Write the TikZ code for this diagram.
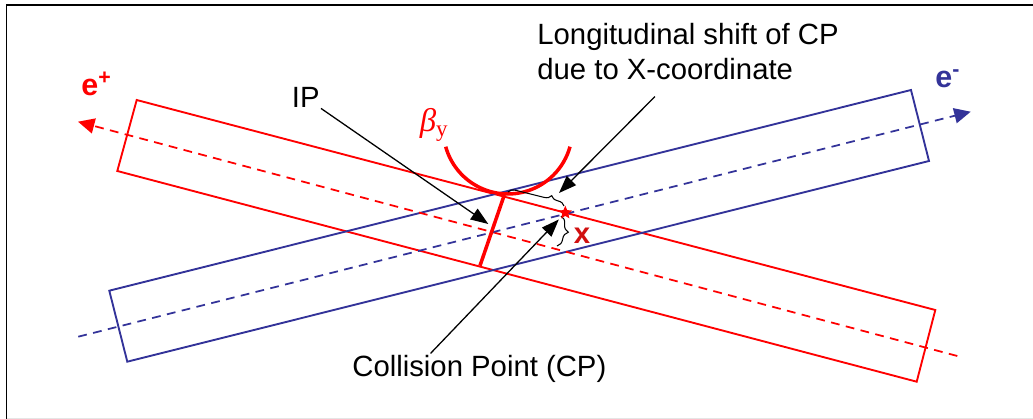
\documentclass[tikz,border=0pt]{standalone}
\usepackage{fontspec}
\setmainfont{Liberation Sans}
\newfontfamily\greekserif{Liberation Serif}
\usetikzlibrary{arrows.meta,shapes.geometric,decorations.pathreplacing,calc}
\definecolor{PositronRed}{HTML}{FF0000}
\definecolor{ShiftRed}{HTML}{D01010}
\definecolor{ElectronBlue}{HTML}{333399}
\begin{document}
\begin{tikzpicture}[x=0.03cm,y=-0.03cm,
      every node/.style={font=\fontsize{25}{30.6}\selectfont,inner sep=1pt},
      beam/.style={line width=1.6pt,line join=miter},
      orbit/.style={line width=1.5pt,dash pattern=on 7.5pt off 5.5pt,
        -{Triangle[length=14pt,width=13pt]}},
      pointer/.style={line width=1.1pt,-{Triangle[length=15pt,width=11pt]}},
      bracket/.style={decorate,line width=0.9pt},
      beamname/.style={font=\fontsize{26}{30}\selectfont\bfseries},
      ipcut/.style={draw=PositronRed,line width=3pt}]
      \useasboundingbox (0,0) rectangle (1033,419);
      \draw[line width=1.7pt] (6.5,419) -- (6.5,5) -- (1033,5);
      \draw[gray!20,line width=1pt] (6.5,418.5) -- (1033,418.5);
      \draw[beam,PositronRed] (136.7,100) -- (935.3,310) -- (916.7,381.7) -- (117.3,171) -- cycle;
      \draw[beam,ElectronBlue] (109.3,290.7) -- (911,90) -- (929,161) -- (127.3,361.7) -- cycle;
      \draw[orbit,PositronRed] (957.3,356) -- (78,121.7);
      \draw[orbit,ElectronBlue] (78.3,336.7) -- (970.7,111.7);
      \draw[ipcut] (504.3,195) -- (480,265.7);
      \draw[ipcut] (445.7,146.7) arc[start angle=164.5,end angle=15.5,radius=64.5];
      \draw[bracket,decoration={brace,amplitude=6pt,aspect=0.75}] (508,192) -- (564,206);
      \draw[bracket,decoration={brace,amplitude=8pt}] (561,216) -- (557,246);
      \node[star,star points=5,star point ratio=2.2,fill=PositronRed,inner sep=0pt,
        minimum size=12pt] (cp) at (565.3,212.7) {};
      \coordinate (iptip) at (488.3,224);
      \coordinate (shifttip) at (559,193);
      \node[beamname,text=PositronRed,anchor=base west] (eplus) at (80,95) {e\textsuperscript{+}};
      \node[beamname,text=ElectronBlue,anchor=base west] (eminus) at (934,87) {e\textsuperscript{-}};
      \node[text=PositronRed,font=\fontsize{28}{32}\greekserif\itshape] (betay) at (434,125) {β\textsubscript{\upshape y}};
      \node[text=ShiftRed,font=\fontsize{25}{28}\selectfont\bfseries] (xlabel) at (582,236) {x};
      \node[anchor=base west] (iplabel) at (290.5,107) {IP};
      \node[align=left,anchor=north west] (shiftlabel) at (536,21.5) {Longitudinal shift of CP\\due to X-coordinate};
      \node[anchor=base west] (cplabel) at (351,376) {Collision Point (CP)};
      \draw[pointer] (iplabel.south east) -- (iptip);
      \draw[pointer,shorten <=18pt] ($(shiftlabel.south west)!0.44!(shiftlabel.south east)$) -- (shifttip);
      \draw[pointer,shorten >=3pt] ($(cplabel.north west)!0.31!(cplabel.north east)$) -- (cp);
    \end{tikzpicture}
\end{document}
